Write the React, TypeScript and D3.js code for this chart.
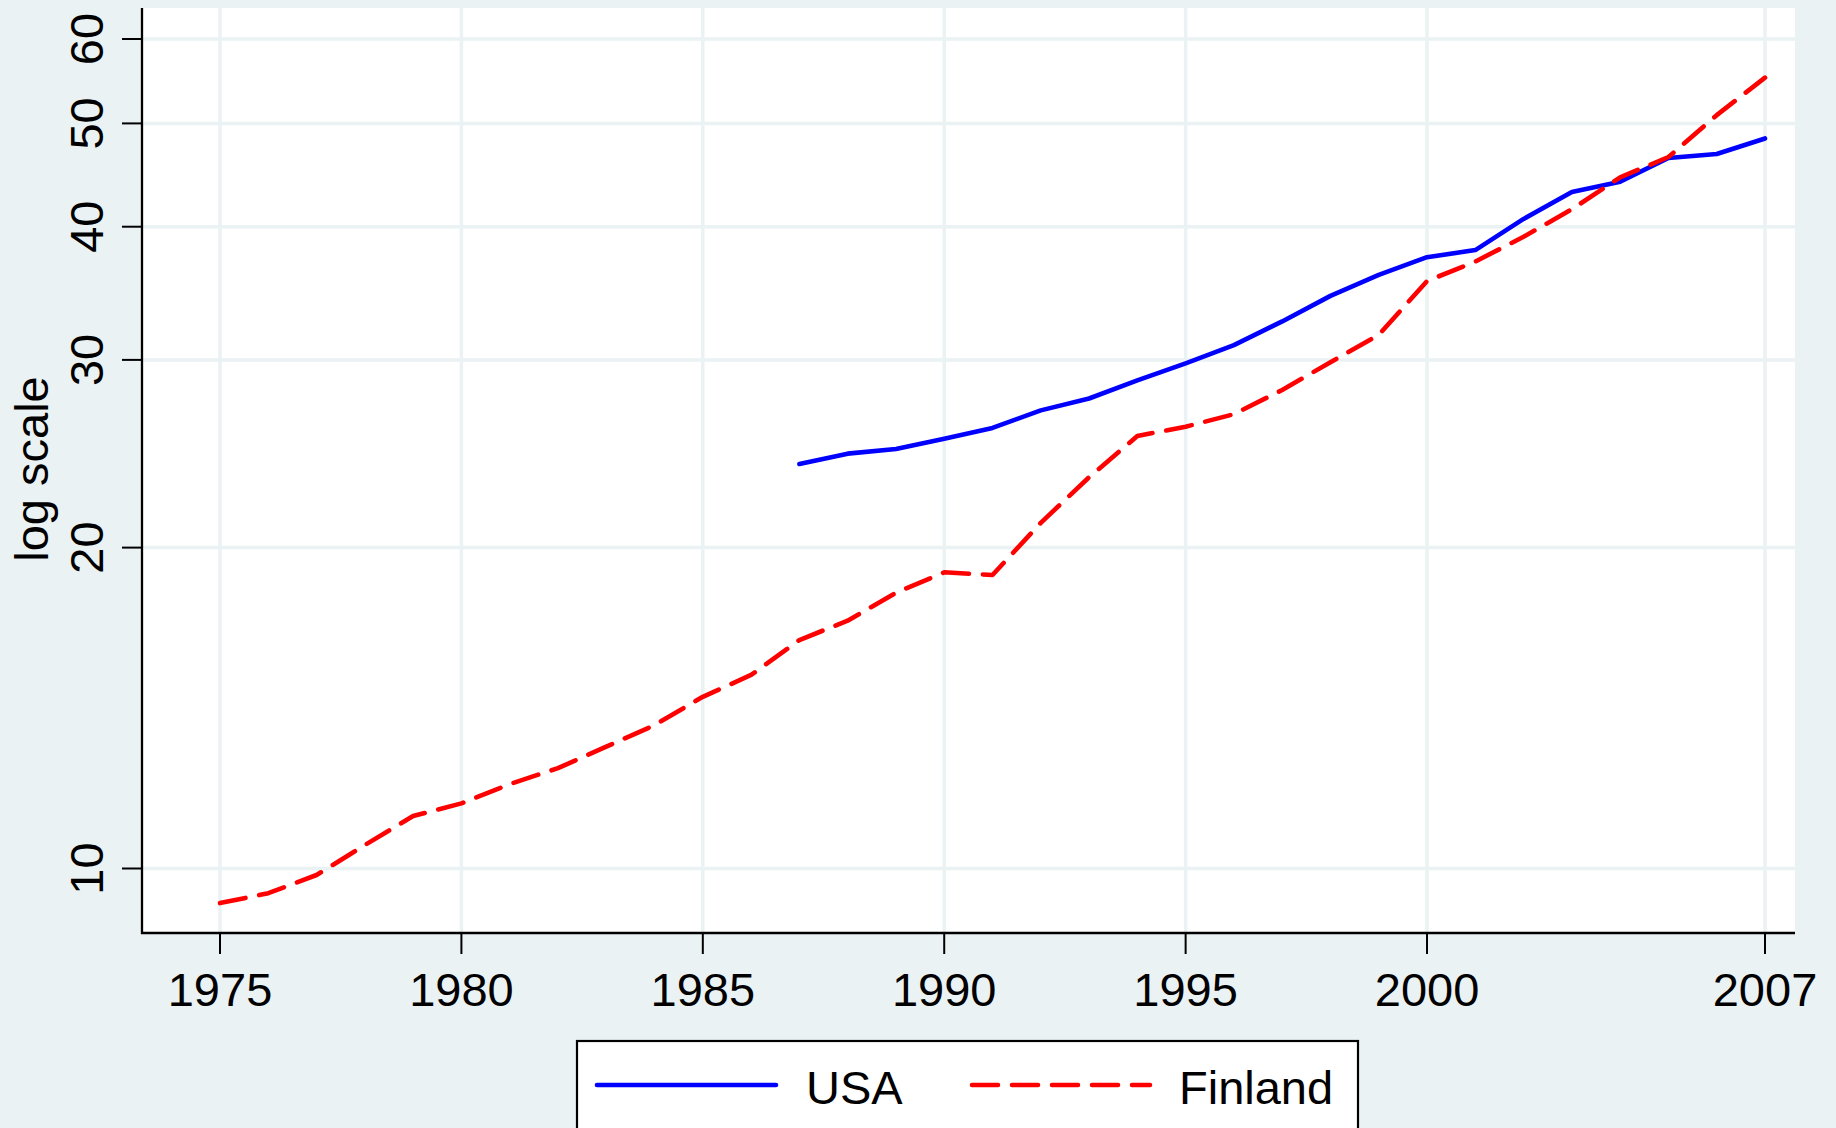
import React from "react";
import * as d3 from "d3";

const usaYears = [1987,1988,1989,1990,1991,1992,1993,1994,1995,1996,1997,1998,1999,2000,2001,2002,2003,2004,2005,2006,2007];
const usaValues = [23.96,24.5,24.75,25.3,25.9,26.9,27.6,28.7,29.78,30.97,32.6,34.45,36.05,37.45,38.03,40.68,43.12,44.09,46.4,46.8,48.4];

const finYears = [1975,1976,1977,1978,1979,1980,1981,1982,1983,1984,1985,1986,1987,1988,1989,1990,1991,1992,1993,1994,1995,1996,1997,1998,1999,2000,2001,2002,2003,2004,2005,2006,2007];
const finValues = [9.28,9.48,9.86,10.52,11.2,11.51,12.0,12.42,13.01,13.63,14.49,15.19,16.38,17.08,18.14,18.96,18.85,21.1,23.28,25.45,25.97,26.68,28.11,29.85,31.66,35.57,37.1,39.14,41.54,44.5,46.5,50.9,55.2];

const xTicks = [1975,1980,1985,1990,1995,2000,2007];
const yTicks = [10,20,30,40,50,60];
const seriesNames = ["USA", "Finland"];
const yTitle = "log scale";

const W = 1836, H = 1128;
const BG = "#EAF2F3";
const FONT = "'Liberation Sans', Arial, sans-serif";

export default function App() {
  const plotL = 142, plotR = 1795, plotT = 8, plotB = 933;
  const x = d3.scaleLinear().domain([1975, 2007]).range([220, 1765]);
  const y = d3.scaleLog().domain([10, 60]).range([868.5, 39]);

  const line = d3.line<[number, number]>()
    .x(d => x(d[0]))
    .y(d => y(d[1]));

  const usaPts = usaYears.map((yr, i) => [yr, usaValues[i]] as [number, number]);
  const finPts = finYears.map((yr, i) => [yr, finValues[i]] as [number, number]);

  return (
    <svg width={W} height={H} style={{ position: "absolute", left: 0, top: 0, display: "block" }} fontFamily={FONT}>
      <rect x={0} y={0} width={W} height={H} fill={BG} />
      <rect x={plotL} y={plotT} width={plotR - plotL} height={plotB - plotT} fill="#ffffff" />
      {/* grid */}
      {yTicks.map(t => (
        <line key={"gy" + t} x1={plotL} x2={plotR} y1={y(t)} y2={y(t)} stroke={BG} strokeWidth={3.5} />
      ))}
      {xTicks.map(t => (
        <line key={"gx" + t} x1={x(t)} x2={x(t)} y1={plotT} y2={plotB} stroke={BG} strokeWidth={3.5} />
      ))}
      {/* series */}
      <path d={line(usaPts) || ""} fill="none" stroke="#0000ff" strokeWidth={4.6} strokeLinejoin="round" strokeLinecap="round" />
      <path d={line(finPts) || ""} fill="none" stroke="#ff0000" strokeWidth={4.6} strokeLinejoin="round" strokeLinecap="round" strokeDasharray="26 14" />
      {/* axes */}
      <line x1={plotL} x2={plotL} y1={plotT} y2={plotB + 1} stroke="#000" strokeWidth={2.3} />
      <line x1={plotL - 1} x2={plotR} y1={plotB} y2={plotB} stroke="#000" strokeWidth={2.5} />
      {yTicks.map(t => (
        <g key={"ty" + t}>
          <line x1={plotL - 20} x2={plotL} y1={y(t)} y2={y(t)} stroke="#000" strokeWidth={2} />
          <text transform={`translate(103,${y(t)}) rotate(-90)`} textAnchor="middle" fontSize={47} fill="#000">{t}</text>
        </g>
      ))}
      {xTicks.map(t => (
        <g key={"tx" + t}>
          <line x1={x(t)} x2={x(t)} y1={plotB} y2={plotB + 21} stroke="#000" strokeWidth={2} />
          <text x={x(t)} y={1006} textAnchor="middle" fontSize={47} fill="#000">{t}</text>
        </g>
      ))}
      <text transform={`translate(48,469) rotate(-90)`} textAnchor="middle" fontSize={47} fill="#000">{yTitle}</text>
      {/* legend */}
      <rect x={577} y={1041} width={781} height={120} fill="#ffffff" stroke="#000" strokeWidth={2.2} />
      <line x1={597} x2={776} y1={1085} y2={1085} stroke="#0000ff" strokeWidth={4.6} strokeLinecap="round" />
      <text x={806} y={1104} fontSize={47} fill="#000">{seriesNames[0]}</text>
      <line x1={972} x2={1150} y1={1085} y2={1085} stroke="#ff0000" strokeWidth={4.6} strokeLinecap="round" strokeDasharray="26 14" />
      <text x={1179} y={1104} fontSize={47} fill="#000">{seriesNames[1]}</text>
    </svg>
  );
}
